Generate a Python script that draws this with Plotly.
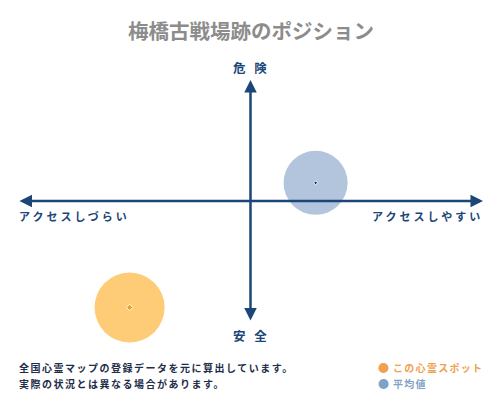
import plotly.graph_objects as go

# position of this spot vs the average (x: access, y: danger), both in [-1, 1]
spot_names = ['この心霊スポット', '平均値']
access_scores = [-0.52, 0.28]
danger_scores = [-0.88, 0.15]
bubble_sizes = [70, 64]
bubble_colors = ['#FECB76', '#B2C5DC']
dot_colors = ['#F0A020', '#1A2A3A']

title_text = '梅橋古戦場跡のポジション'
axis_labels = {'top': '危 険', 'bottom': '安 全', 'left': 'アクセスしづらい', 'right': 'アクセスしやすい'}
footer_lines = ['全国心霊マップの登録データを元に算出しています。', '実際の状況とは異なる場合があります。']
legend_colors = ['#F0A050', '#7FA3C6']

FONT = 'Noto Sans CJK JP'
NAVY = '#1B4677'
W, H = 500, 400
L, R, T, B = 18, 17, 80, 78

fig = go.Figure()

# bubbles (plotly defaults bubble opacity to 0.7, force solid)
fig.add_trace(go.Scatter(
    x=access_scores, y=danger_scores, mode='markers', cliponaxis=False,
    marker=dict(size=bubble_sizes, color=bubble_colors, opacity=1, line=dict(width=0)),
    hoverinfo='skip', showlegend=False,
))
# centre dots
fig.add_trace(go.Scatter(
    x=access_scores, y=danger_scores, mode='markers', cliponaxis=False,
    marker=dict(size=[5, 3], color=dot_colors, opacity=1, symbol='diamond'),
    hoverinfo='skip', showlegend=False,
))

# double-headed axis arrows (drawn on top of bubbles)
fig.add_annotation(x=1, y=0, ax=-1, ay=0, xref='x', yref='y', axref='x', ayref='y',
                   text='', showarrow=True, arrowside='end+start', arrowhead=2,
                   arrowsize=1, arrowwidth=2.5, arrowcolor=NAVY)
fig.add_annotation(x=0, y=1, ax=0, ay=-1, xref='x', yref='y', axref='x', ayref='y',
                   text='', showarrow=True, arrowside='end+start', arrowhead=2,
                   arrowsize=1, arrowwidth=2.5, arrowcolor=NAVY)


def px(x, y):
    # page pixels -> paper coords
    return (x - L) / (W - L - R), (H - B - y) / (H - T - B)


def label(text, x, y, xanchor='center', size=12, color=NAVY, spacing=0):
    xp, yp = px(x, y)
    if spacing:
        text = f'<span style="letter-spacing:{spacing}px">{text}</span>'
    fig.add_annotation(x=xp, y=yp, xref='paper', yref='paper', text=f'<b>{text}</b>',
                       showarrow=False, xanchor=xanchor, yanchor='middle',
                       font=dict(family=FONT, size=size, color=color))


label(title_text, 251, 30, size=20.5, color='#8C8C8C')
label(axis_labels['top'], 251, 67, size=12.5, spacing=3)
label(axis_labels['bottom'], 251, 335, size=12.5, spacing=3)
label(axis_labels['left'], 17, 216, 'left', size=11, spacing=3)
label(axis_labels['right'], 485, 216, 'right', size=11, spacing=3)

for i, line in enumerate(footer_lines):
    label(line, 17, 367 + 16 * i, 'left', size=10, color='#1E2D48', spacing=1.5)

# legend
for i, (name, col) in enumerate(zip(spot_names, legend_colors)):
    label('●', 376, 367 + 16 * i, 'left', size=11, color=col)
    label(name, 391, 367 + 16 * i, 'left', size=10, color=col, spacing=1.3)

fig.update_layout(
    width=W, height=H,
    margin=dict(l=L, r=R, t=T, b=B, autoexpand=False),
    paper_bgcolor='white', plot_bgcolor='white',
    xaxis=dict(range=[-1, 1], visible=False, fixedrange=True),
    yaxis=dict(range=[-1, 1], visible=False, fixedrange=True),
)

fig.write_html('out.html', config={'displayModeBar': False},
               post_script="document.body.style.margin='0';")
